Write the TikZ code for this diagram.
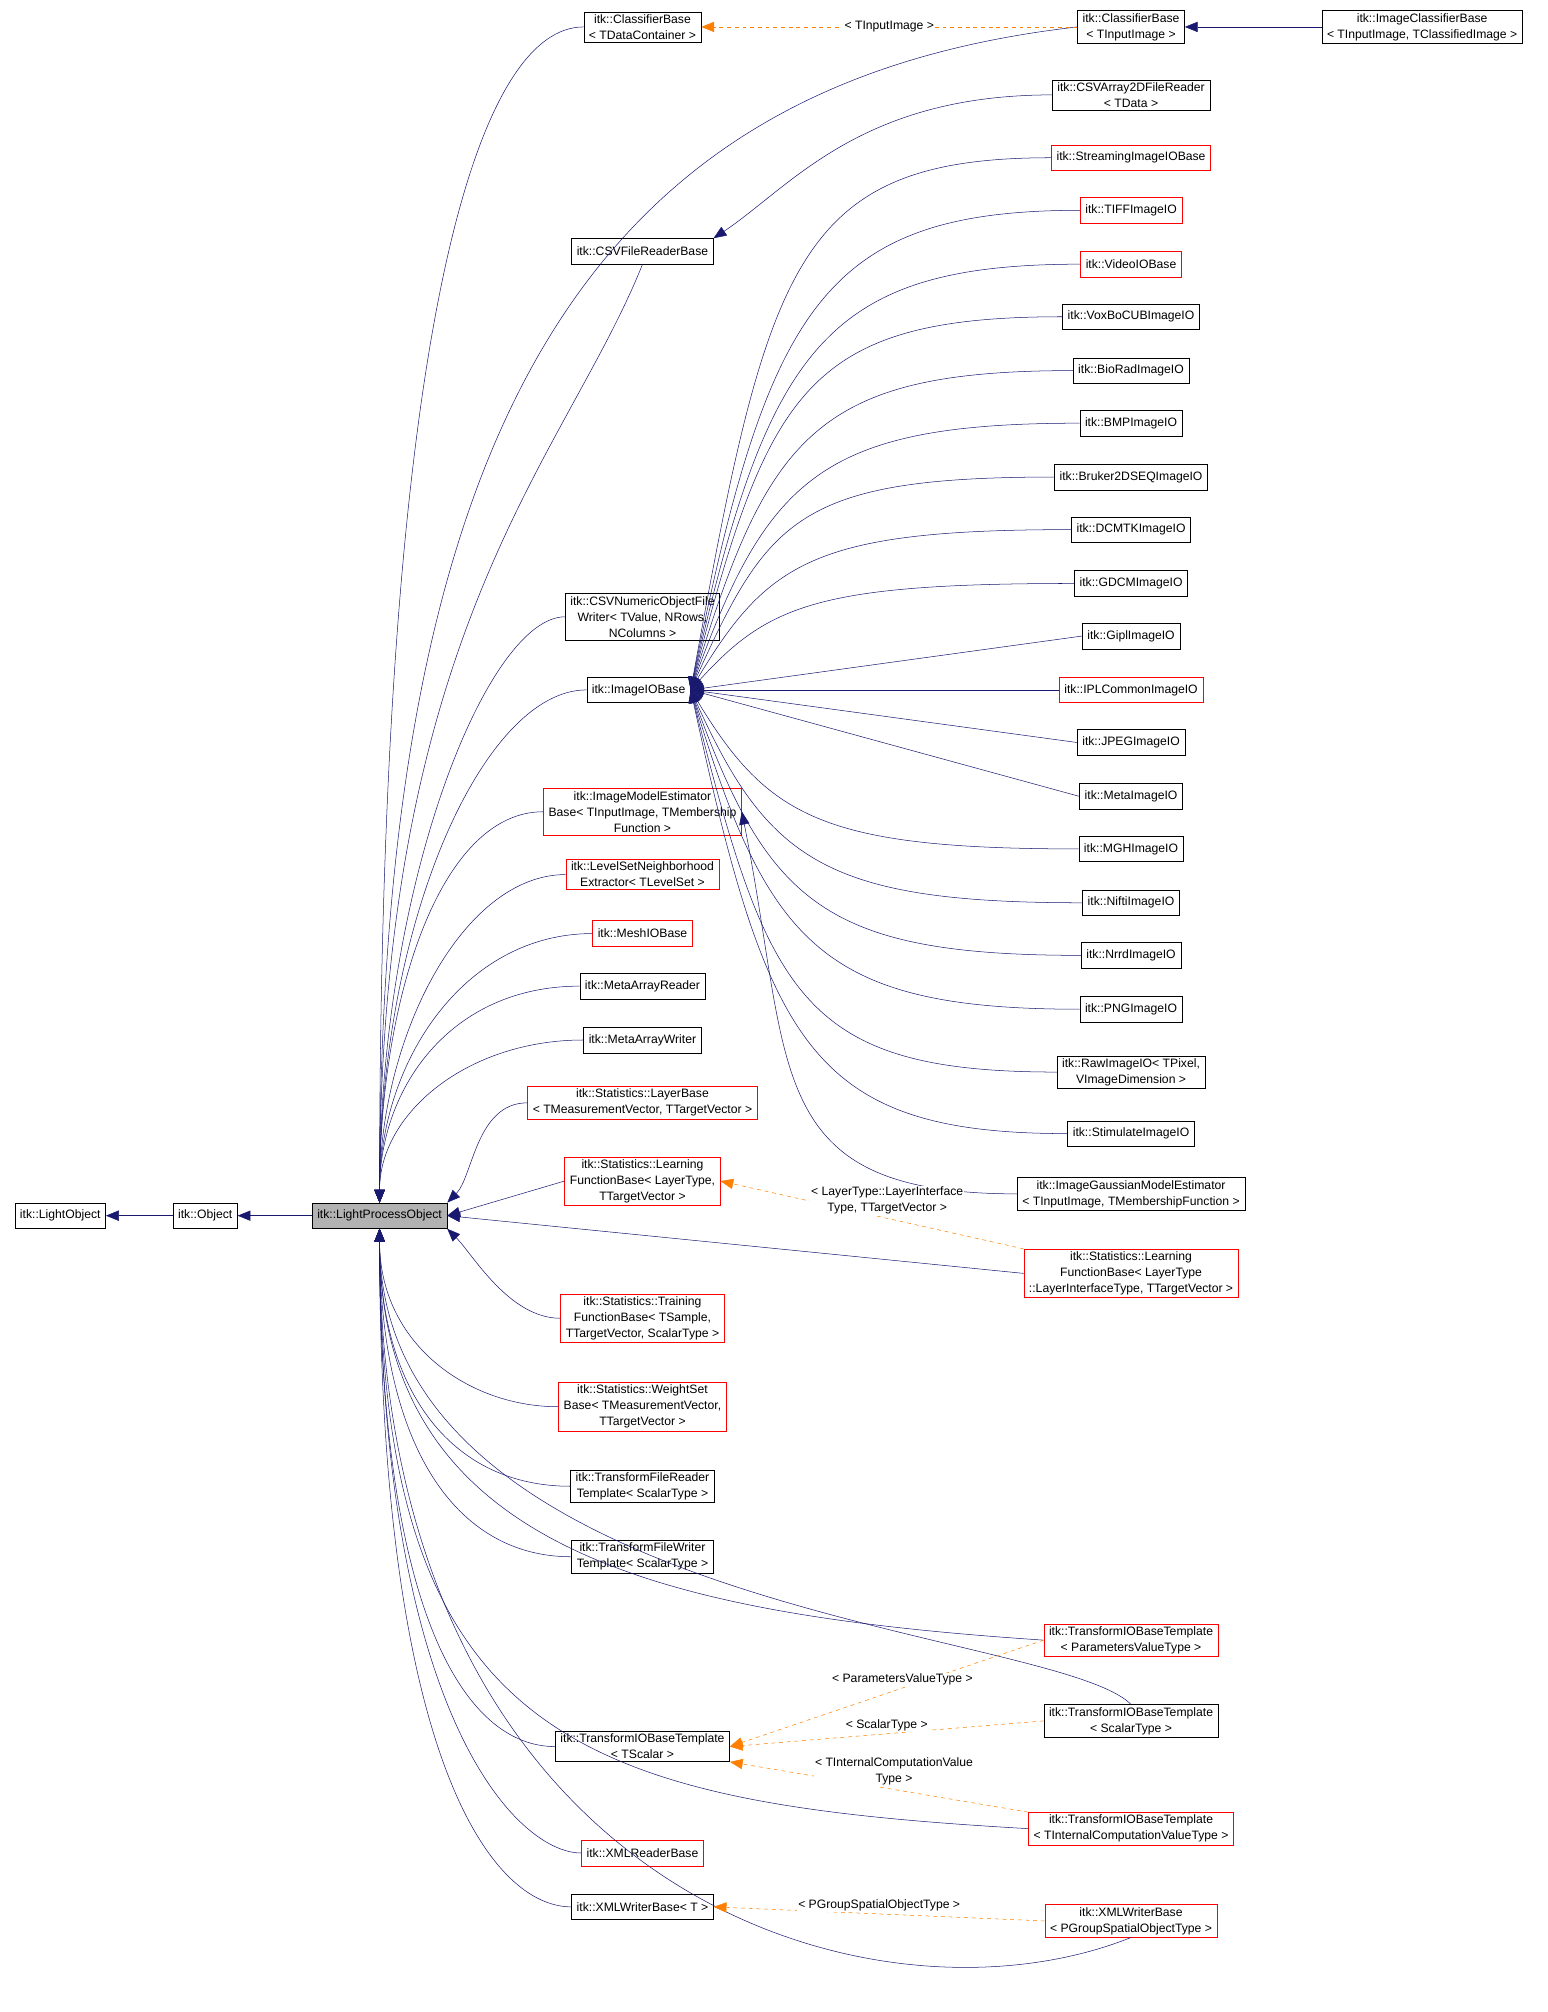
\documentclass[tikz,border=0pt]{standalone}
\usepackage{fontspec}
\setmainfont{Liberation Sans}
\usetikzlibrary{arrows.meta}
\begin{document}
\begin{tikzpicture}[x=1pt,y=-1pt,
 box/.style={draw,fill=white,align=center,inner xsep=4pt,inner ysep=2pt,minimum height=20pt,font=\fontsize{9.5}{12.5}\selectfont},
 rbox/.style={box,draw=red},
 inh/.style={draw={rgb,255:red,25;green,25;blue,112},-{Triangle[width=8pt,length=10pt]}},
 tpl/.style={draw=orange,dashed,-{Triangle[width=8pt,length=10pt]}},
 lab/.style={font=\fontsize{9.5}{12.5}\selectfont,align=center,fill=white,inner sep=1pt}]
\useasboundingbox (0,0) rectangle (1207,1569);
% left
\node[box] (lo) at (47,948) {itk::LightObject};
\node[box] (ob) at (160,948) {itk::Object};
\node[box,fill=gray!60] (lpo) at (296,948) {itk::LightProcessObject};
% middle
\node[box] (cdc) at (501,21) {itk::ClassifierBase\\< TDataContainer >};
\node[box] (csvfr) at (501,196) {itk::CSVFileReaderBase};
\node[box] (csvw) at (501,481) {itk::CSVNumericObjectFile\\Writer< TValue, NRows,\\ NColumns >};
\node[box] (iio) at (498,538) {itk::ImageIOBase};
\node[rbox] (ime) at (501,633) {itk::ImageModelEstimator\\Base< TInputImage, TMembership\\Function >};
\node[rbox] (lsn) at (501,682) {itk::LevelSetNeighborhood\\Extractor< TLevelSet >};
\node[rbox] (mesh) at (501,728) {itk::MeshIOBase};
\node[box] (mar) at (501,769) {itk::MetaArrayReader};
\node[box] (maw) at (501,811) {itk::MetaArrayWriter};
\node[rbox] (layer) at (501,860) {itk::Statistics::LayerBase\\< TMeasurementVector, TTargetVector >};
\node[rbox] (lfm) at (501,921) {itk::Statistics::Learning\\FunctionBase< LayerType,\\ TTargetVector >};
\node[rbox] (trn) at (501,1028) {itk::Statistics::Training\\FunctionBase< TSample,\\ TTargetVector, ScalarType >};
\node[rbox] (wgt) at (501,1097) {itk::Statistics::WeightSet\\Base< TMeasurementVector,\\ TTargetVector >};
\node[box] (tfr) at (501,1159) {itk::TransformFileReader\\Template< ScalarType >};
\node[box] (tfw) at (501,1214) {itk::TransformFileWriter\\Template< ScalarType >};
\node[box] (tsc) at (501,1362) {itk::TransformIOBaseTemplate\\< TScalar >};
\node[rbox] (xmlr) at (501,1445) {itk::XMLReaderBase};
\node[box] (xmlw) at (501,1487) {itk::XMLWriterBase< T >};
% right
\node[box] (cii) at (882,21) {itk::ClassifierBase\\< TInputImage >};
\node[box] (icb) at (1109,21) {itk::ImageClassifierBase\\< TInputImage, TClassifiedImage >};
\node[box] (csva) at (882,74) {itk::CSVArray2DFileReader\\< TData >};
\node[rbox] (stream) at (882,123) {itk::StreamingImageIOBase};
\node[rbox] (tiff) at (882,164) {itk::TIFFImageIO};
\node[rbox] (video) at (882,206) {itk::VideoIOBase};
\node[box] (voxbo) at (882,247) {itk::VoxBoCUBImageIO};
\node[box] (biorad) at (882,289) {itk::BioRadImageIO};
\node[box] (bmp) at (882,330) {itk::BMPImageIO};
\node[box] (bruker) at (882,372) {itk::Bruker2DSEQImageIO};
\node[box] (dcmtk) at (882,413) {itk::DCMTKImageIO};
\node[box] (gdcm) at (882,455) {itk::GDCMImageIO};
\node[box] (gipl) at (882,496) {itk::GiplImageIO};
\node[rbox] (ipl) at (882,538) {itk::IPLCommonImageIO};
\node[box] (jpeg) at (882,579) {itk::JPEGImageIO};
\node[box] (meta) at (882,621) {itk::MetaImageIO};
\node[box] (mgh) at (882,662) {itk::MGHImageIO};
\node[box] (nifti) at (882,704) {itk::NiftiImageIO};
\node[box] (nrrd) at (882,745) {itk::NrrdImageIO};
\node[box] (png) at (882,787) {itk::PNGImageIO};
\node[box] (raw) at (882,836) {itk::RawImageIO< TPixel,\\ VImageDimension >};
\node[box] (stim) at (882,884) {itk::StimulateImageIO};
\node[box] (gauss) at (882,931) {itk::ImageGaussianModelEstimator\\< TInputImage, TMembershipFunction >};
\node[rbox] (lfr) at (882,993) {itk::Statistics::Learning\\FunctionBase< LayerType\\::LayerInterfaceType, TTargetVector >};
\node[rbox] (tpv) at (882,1279) {itk::TransformIOBaseTemplate\\< ParametersValueType >};
\node[box] (tst) at (882,1342) {itk::TransformIOBaseTemplate\\< ScalarType >};
\node[rbox] (tic) at (882,1426) {itk::TransformIOBaseTemplate\\< TInternalComputationValueType >};
\node[rbox] (xpg) at (882,1498) {itk::XMLWriterBase\\< PGroupSpatialObjectType >};
% inheritance
\draw[inh] (ob) -- (lo);
\draw[inh] (lpo) -- (ob);
\draw[inh] (icb) -- (cii);
\newcommand\upc[3]{\draw[inh] (#1.west) .. controls +(-#2,0) and +(0,-#3) .. (lpo.north);}
\newcommand\dnc[3]{\draw[inh] (#1.west) .. controls +(-#2,0) and +(0,#3) .. (lpo.south);}
\upc{cdc}{80}{700}
\draw[inh] (cii.west) .. controls +(-350,40) and +(0,-650) .. (lpo.north);
\draw[inh] (csvfr.south) .. controls +(-60,150) and +(0,-450) .. (lpo.north);
\draw[inh] (csva.west) .. controls +(-150,0) and +(60,-40) .. (csvfr.north east);
\upc{csvw}{60}{250}
\upc{iio}{80}{220}
\upc{ime}{80}{160}
\upc{lsn}{80}{130}
\upc{mesh}{100}{110}
\upc{mar}{100}{90}
\upc{maw}{90}{70}
\draw[inh] (layer.west) .. controls +(-40,0) and +(20,-20) .. (lpo.north east);
\draw[inh] (lfm.west) -- (lpo.east);
\draw[inh] (lfr.west) -- (lpo.east);
\draw[inh] (trn.west) .. controls +(-40,0) and +(20,20) .. (lpo.south east);
\dnc{wgt}{70}{90}
\dnc{tfr}{90}{130}
\dnc{tfw}{90}{170}
\draw[inh] (tpv.west) .. controls +(-300,-20) and +(0,250) .. (lpo.south);
\draw[inh] (tst.north) .. controls +(-60,-60) and +(0,300) .. (lpo.south);
\dnc{tsc}{70}{300}
\draw[inh] (tic.west) .. controls +(-350,-20) and +(0,400) .. (lpo.south);
\dnc{xmlr}{50}{380}
\dnc{xmlw}{60}{420}
\draw[inh] (xpg.south) .. controls +(-200,80) and +(0,520) .. (lpo.south);
\newcommand\io[2]{\draw[inh] (#1.west) .. controls +(-200,0) and +(60,#2) .. (iio.east);}
\io{stream}{-332}\io{tiff}{-299}\io{video}{-266}\io{voxbo}{-233}\io{biorad}{-199}
\io{bmp}{-166}\io{bruker}{-133}\io{dcmtk}{-100}\io{gdcm}{-66}
\draw[inh] (gipl.west) -- (iio.east);
\draw[inh] (ipl.west) -- (iio.east);
\draw[inh] (jpeg.west) -- (iio.east);
\draw[inh] (meta.west) -- (iio.east);
\io{mgh}{99}\io{nifti}{133}\io{nrrd}{166}\io{png}{199}\io{raw}{238}\io{stim}{277}
\draw[inh] (gauss.west) .. controls +(-200,0) and +(40,200) .. (ime.east);
% templates
\draw[tpl] (cii.west) -- node[lab]{< TInputImage >} (cdc.east);
\draw[tpl] (lfr.north west) -- node[lab,pos=0.45,above=2pt]{< LayerType::LayerInterface\\Type, TTargetVector >} (lfm.east);
\draw[tpl] (tpv.west) -- node[lab,pos=0.45,above=1pt]{< ParametersValueType >} (tsc.east);
\draw[tpl] (tst.west) -- node[lab,above=1pt]{< ScalarType >} (tsc.east);
\draw[tpl] (tic.north west) -- node[lab,pos=0.45,above=2pt]{< TInternalComputationValue\\Type >} (tsc.south east);
\draw[tpl] (xpg.west) -- node[lab,above=1pt]{< PGroupSpatialObjectType >} (xmlw.east);
\end{tikzpicture}
\end{document}
